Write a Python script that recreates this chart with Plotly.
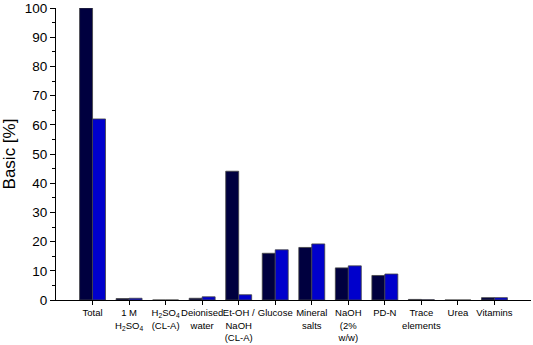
import plotly.graph_objects as go

categories = ["Total", "1 M<br>H<sub>2</sub>SO<sub>4</sub>", "H<sub>2</sub>SO<sub>4</sub><br>(CL-A)",
              "Deionised<br>water", "Et-OH /<br>NaOH<br>(CL-A)", "Glucose", "Mineral<br>salts",
              "NaOH<br>(2%<br>w/w)", "PD-N", "Trace<br>elements", "Urea", "Vitamins"]
series_a = [100, 0.5, 0, 0.6, 44.1, 16.0, 18.0, 11.0, 8.4, 0.2, 0, 0.8]
series_b = [62, 0.6, 0, 1.1, 1.8, 17.2, 19.2, 11.7, 8.9, 0.1, 0, 0.8]

fig = go.Figure()
fig.add_bar(x=categories, y=series_a, marker=dict(color="#00003f", line=dict(color="#444444", width=0.8)))
fig.add_bar(x=categories, y=series_b, marker=dict(color="#0000cc", line=dict(color="#444444", width=0.8)))

fig.update_layout(
    width=533, height=345, barmode="group", bargap=0.29, bargroupgap=0,
    showlegend=False, plot_bgcolor="white", paper_bgcolor="white",
    margin=dict(l=56, r=2, t=8, b=45),
    font=dict(family="Liberation Sans, Arial", color="black"),
)
fig.update_xaxes(range=[-1, 12], showline=True, linecolor="black", linewidth=1,
                 ticks="outside", ticklen=4, tickcolor="black", tickangle=0,
                 tickfont=dict(size=9.5), showgrid=False, automargin=False,
                 ticklabelstandoff=0)
fig.update_yaxes(range=[0, 100], showline=True, linecolor="black", linewidth=1,
                 ticks="outside", ticklen=5, tickcolor="black", dtick=10,
                 minor=dict(dtick=5, ticks="outside", ticklen=3, tickcolor="black"),
                 tickfont=dict(size=13.5), showgrid=False, zeroline=False, automargin=False,
                 title=dict(text="Basic [%]", font=dict(size=17), standoff=10))
fig.write_html("out.html", config={"displayModeBar": False},
               post_script="document.body.style.margin='0';document.body.style.overflow='hidden';")
